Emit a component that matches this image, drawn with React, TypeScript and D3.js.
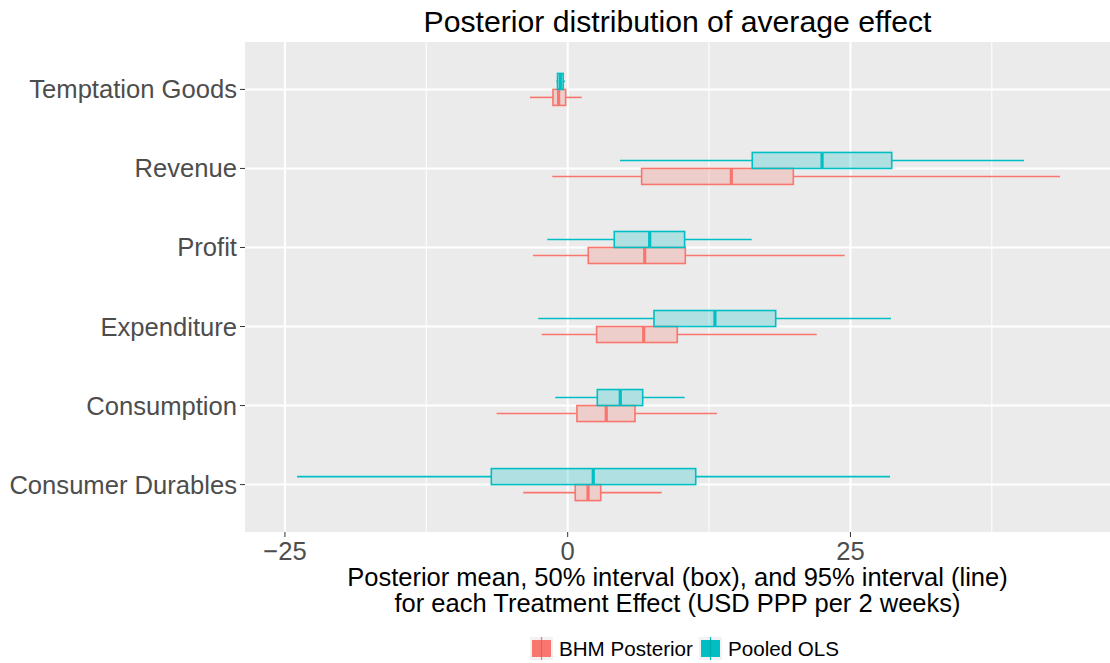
import React from "react";
import * as d3 from "d3";

const categories = ["Temptation Goods", "Revenue", "Profit", "Expenditure", "Consumption", "Consumer Durables"];
const series = ["BHM Posterior", "Pooled OLS"];
const colors = ["#F8766D", "#00BFC4"];

// [whiskerLow, boxLow, median, boxHigh, whiskerHigh] per category
const bhm = [
  [-3.33, -1.3, -0.8, -0.18, 1.24],
  [-1.36, 6.54, 14.47, 19.95, 43.53],
  [-3.07, 1.82, 6.81, 10.4, 24.49],
  [-2.3, 2.56, 6.72, 9.69, 22.02],
  [-6.28, 0.82, 3.41, 5.95, 13.2],
  [-3.93, 0.67, 1.8, 2.92, 8.31],
];
const ols = [
  [-1.0, -0.9, -0.65, -0.4, -0.25],
  [4.62, 16.32, 22.49, 28.65, 40.35],
  [-1.8, 4.12, 7.25, 10.34, 16.27],
  [-2.6, 7.63, 13.02, 18.39, 28.59],
  [-1.1, 2.62, 4.65, 6.63, 10.34],
  [-23.93, -6.75, 2.26, 11.32, 28.5],
];
const majorTicks = [-25, 0, 25];
const minorTicks = [-12.5, 12.5, 37.5];

const W = 1110, H = 663;
const pL = 245, pR = 1110, pT = 42, pB = 532;

export default function App() {
  const x = d3.scaleLinear().domain([-28.53, 47.95]).range([pL, pR]);
  const y = d3.scalePoint<string>().domain(categories).range([pT, pB]).padding(0.6);
  const bh = 16;
  const allSeries = [bhm, ols];
  const offsets = [8, -8];
  const font = "'Liberation Sans', Arial, Helvetica, sans-serif";
  const fmt = (v: number) => (v < 0 ? "\u2212" + Math.abs(v) : String(v));
  return (
    <svg width={W} height={H} style={{ position: "absolute", left: 0, top: 0, background: "#fff" }} fontFamily={font}>
      <rect x={pL} y={pT} width={pR - pL} height={pB - pT} fill="#EBEBEB" />
      {minorTicks.map((t) => (
        <line key={"mn" + t} x1={x(t)} x2={x(t)} y1={pT} y2={pB} stroke="#fff" strokeWidth={1} />
      ))}
      {majorTicks.map((t) => (
        <line key={"mj" + t} x1={x(t)} x2={x(t)} y1={pT} y2={pB} stroke="#fff" strokeWidth={2} />
      ))}
      {categories.map((c) => (
        <line key={"hg" + c} x1={pL} x2={pR} y1={y(c)} y2={y(c)} stroke="#fff" strokeWidth={2} />
      ))}
      {allSeries.map((data, si) =>
        data.map((d, ci) => {
          const cy = (y(categories[ci]) as number) + offsets[si];
          const col = colors[si];
          return (
            <g key={si + "-" + ci}>
              <line x1={x(d[0])} x2={x(d[1])} y1={cy} y2={cy} stroke={col} strokeWidth={1.6} />
              <line x1={x(d[3])} x2={x(d[4])} y1={cy} y2={cy} stroke={col} strokeWidth={1.6} />
              <rect x={x(d[1])} y={cy - bh / 2} width={x(d[3]) - x(d[1])} height={bh} fill={col} fillOpacity={0.25} stroke={col} strokeWidth={1.6} />
              <line x1={x(d[2])} x2={x(d[2])} y1={cy - bh / 2} y2={cy + bh / 2} stroke={col} strokeWidth={3.2} />
            </g>
          );
        })
      )}
      {categories.map((c) => (
        <g key={"yl" + c}>
          <line x1={pL - 5} x2={pL} y1={y(c)} y2={y(c)} stroke="#333" strokeWidth={1} />
          <text x={pL - 8} y={(y(c) as number) + 9} textAnchor="end" fontSize={25.6} fill="#4D4D4D">{c}</text>
        </g>
      ))}
      {majorTicks.map((t) => (
        <g key={"xl" + t}>
          <line x1={x(t)} x2={x(t)} y1={pB} y2={pB + 5} stroke="#333" strokeWidth={1} />
          <text x={x(t)} y={pB + 28} textAnchor="middle" fontSize={25.6} fill="#4D4D4D">{fmt(t)}</text>
        </g>
      ))}
      <text x={(pL + pR) / 2} y={32} textAnchor="middle" fontSize={30.2} fill="#000">Posterior distribution of average effect</text>
      <text x={(pL + pR) / 2} y={586} textAnchor="middle" fontSize={25.5} fill="#000">Posterior mean, 50% interval (box), and 95% interval (line)</text>
      <text x={(pL + pR) / 2} y={612} textAnchor="middle" fontSize={25.5} fill="#000">for each Treatment Effect (USD PPP per 2 weeks)</text>
      {series.map((s, i) => {
        const kx = i === 0 ? 530 : 699;
        const ky = 637;
        return (
          <g key={"lg" + s}>
            <rect x={kx} y={ky} width={23} height={23} fill="#F2F2F2" />
            <rect x={kx + 2} y={ky + 3} width={19} height={17} fill={colors[i]} />
            <line x1={kx + 11.5} x2={kx + 11.5} y1={ky} y2={ky + 23} stroke={colors[i]} strokeWidth={1.2} />
            <line x1={kx + 11.5} x2={kx + 11.5} y1={ky + 3} y2={ky + 20} stroke={d3.color(colors[i])!.darker(0.4).toString()} strokeWidth={1.2} />
            <text x={kx + 29} y={ky + 19} fontSize={20.6} fill="#000">{s}</text>
          </g>
        );
      })}
    </svg>
  );
}
